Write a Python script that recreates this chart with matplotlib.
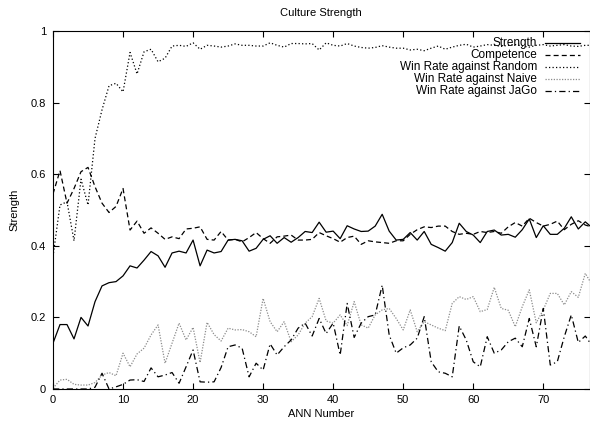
import matplotlib
matplotlib.use("Agg")
import matplotlib.pyplot as plt
import numpy as np

plt.rcParams['font.family'] = ['Liberation Sans', 'DejaVu Sans']
plt.rcParams['font.size'] = 8

# data, one value per ANN number 0..77
strength = [0.128, 0.18, 0.18, 0.14, 0.20, 0.176, 0.244, 0.288, 0.297, 0.30,
            0.316, 0.344, 0.338, 0.36, 0.384, 0.372, 0.34, 0.38, 0.385, 0.38,
            0.416, 0.344, 0.388, 0.38, 0.384, 0.416, 0.418, 0.414, 0.385, 0.393,
            0.418, 0.428, 0.407, 0.423, 0.41, 0.423, 0.44, 0.437, 0.466, 0.438,
            0.441, 0.42, 0.456, 0.447, 0.44, 0.441, 0.455, 0.488, 0.441, 0.416,
            0.418, 0.437, 0.416, 0.44, 0.404, 0.395, 0.385, 0.409, 0.463, 0.44,
            0.43, 0.409, 0.44, 0.444, 0.43, 0.432, 0.424, 0.445, 0.475, 0.423,
            0.456, 0.432, 0.432, 0.449, 0.481, 0.447, 0.467, 0.45]
competence = [0.545, 0.61, 0.519, 0.56, 0.607, 0.619, 0.565, 0.519, 0.493, 0.51,
              0.56, 0.444, 0.469, 0.435, 0.45, 0.435, 0.418, 0.425, 0.42, 0.447,
              0.449, 0.453, 0.418, 0.416, 0.44, 0.416, 0.418, 0.411, 0.423, 0.437,
              0.42, 0.407, 0.425, 0.427, 0.43, 0.416, 0.416, 0.418, 0.437, 0.428,
              0.42, 0.41, 0.423, 0.427, 0.404, 0.414, 0.411, 0.409, 0.407, 0.414,
              0.414, 0.432, 0.445, 0.453, 0.451, 0.455, 0.455, 0.44, 0.432, 0.435,
              0.432, 0.44, 0.437, 0.44, 0.435, 0.453, 0.465, 0.455, 0.477, 0.465,
              0.455, 0.46, 0.469, 0.445, 0.46, 0.47, 0.458, 0.452]
random_wr = [0.37, 0.514, 0.523, 0.414, 0.586, 0.514, 0.70, 0.78, 0.847, 0.854,
             0.83, 0.94, 0.88, 0.942, 0.949, 0.914, 0.924, 0.958, 0.96, 0.957,
             0.967, 0.949, 0.96, 0.958, 0.955, 0.958, 0.964, 0.96, 0.96, 0.958,
             0.958, 0.967, 0.96, 0.955, 0.965, 0.965, 0.964, 0.965, 0.947, 0.967,
             0.96, 0.958, 0.965, 0.958, 0.954, 0.952, 0.954, 0.959, 0.955, 0.952,
             0.952, 0.947, 0.949, 0.945, 0.952, 0.958, 0.949, 0.955, 0.96, 0.963,
             0.955, 0.958, 0.962, 0.96, 0.957, 0.96, 0.962, 0.958, 0.955, 0.96,
             0.962, 0.958, 0.96, 0.962, 0.958, 0.957, 0.96, 0.96]
naive_wr = [0.002, 0.025, 0.027, 0.013, 0.011, 0.011, 0.018, 0.039, 0.046, 0.037,
            0.10, 0.062, 0.098, 0.114, 0.151, 0.179, 0.072, 0.128, 0.184, 0.137,
            0.172, 0.074, 0.186, 0.152, 0.134, 0.17, 0.165, 0.166, 0.16, 0.146,
            0.253, 0.188, 0.16, 0.188, 0.132, 0.151, 0.184, 0.202, 0.253, 0.19,
            0.184, 0.207, 0.177, 0.244, 0.179, 0.17, 0.207, 0.221, 0.225, 0.197,
            0.165, 0.221, 0.16, 0.188, 0.179, 0.17, 0.163, 0.239, 0.258, 0.25,
            0.258, 0.216, 0.222, 0.284, 0.225, 0.22, 0.174, 0.23, 0.277, 0.185,
            0.221, 0.267, 0.267, 0.235, 0.272, 0.256, 0.323, 0.29]
jago_wr = [0.0, 0.0, 0.0, 0.0, 0.0, 0.0, 0.005, 0.044, 0.0, 0.006,
           0.013, 0.025, 0.026, 0.021, 0.059, 0.034, 0.039, 0.046, 0.016, 0.062,
           0.109, 0.02, 0.019, 0.02, 0.06, 0.118, 0.123, 0.114, 0.034, 0.072,
           0.053, 0.126, 0.095, 0.118, 0.137, 0.17, 0.184, 0.148, 0.197, 0.155,
           0.184, 0.095, 0.239, 0.144, 0.184, 0.202, 0.207, 0.29, 0.151, 0.1,
           0.115, 0.123, 0.142, 0.202, 0.076, 0.048, 0.044, 0.034, 0.176, 0.137,
           0.076, 0.062, 0.146, 0.1, 0.109, 0.132, 0.142, 0.118, 0.197, 0.118,
           0.225, 0.067, 0.076, 0.146, 0.207, 0.13, 0.148, 0.12]
ann = np.arange(len(strength))

labels = ["Strength", "Competence", "Win Rate against Random",
          "Win Rate against Naive", "Win Rate against JaGo"]
series = [strength, competence, random_wr, naive_wr, jago_wr]
colors = ['black', 'black', 'black', '#8c8c8c', 'black']
styles = ['-', (0, (4, 2.5)), (0, (1, 1.8)), (0, (1, 1.2)), (0, (5, 2.5, 1, 2.5))]

fig = plt.figure(figsize=(5.9, 4.25), dpi=100)
ax = fig.add_axes([53/590, 1 - 389/425, 536.5/590, 358/425])

lw = 0.9
for ys, lab, c, st in zip(series, labels, colors, styles):
    ax.plot(ann, ys, color=c, lw=lw, ls=st, label=lab)

# gnuplot style key: right-justified text, sample line to its right
row_y = 0.966
for lab, c, st in zip(labels, colors, styles):
    ax.text(0.902, row_y, lab, transform=ax.transAxes, ha='right', va='center',
            fontsize=8.5)
    ax.plot([0.917, 0.982], [row_y, row_y], transform=ax.transAxes,
            color=c, lw=lw, ls=st)
    row_y -= 0.0333

ax.set_xlim(0, 76.6)
ax.set_ylim(0, 1)
ax.set_xticks(range(0, 71, 10))
ax.set_yticks([0, 0.2, 0.4, 0.6, 0.8, 1])
ax.set_yticklabels(["0", "0.2", "0.4", "0.6", "0.8", "1"])
ax.tick_params(direction='in', top=True, right=True, length=4, width=0.8)
ax.tick_params(axis='y', pad=5)
ax.tick_params(axis='x', pad=4)
for s in ax.spines.values():
    s.set_linewidth(0.8)

ax.set_title("Culture Strength", fontsize=8, pad=11)
ax.set_xlabel("ANN Number", labelpad=3)
ax.set_ylabel("Strength", labelpad=8)

fig.savefig("out.png", dpi=100)
